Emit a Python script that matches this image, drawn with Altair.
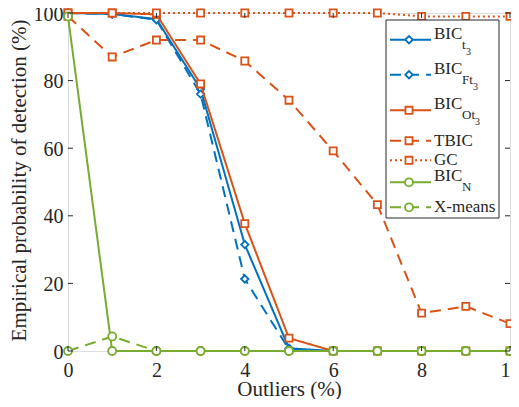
import altair as alt
import pandas as pd

# ---------------- data ----------------
outliers = [0, 1, 2, 3, 4, 5, 6, 7, 8, 9, 10]
bic_t3 = [100, 99.7, 98.2, 77.5, 31.5, 0.8, 0, 0, 0, 0, 0]
bic_ft3 = [100, 99.7, 98.0, 76.0, 21.3, 0.5, 0, 0, 0, 0, 0]
bic_ot3 = [100, 100, 99.6, 79.0, 37.7, 3.8, 0, 0, 0, 0, 0]
tbic = [99, 87, 92, 92, 85.8, 74.2, 59.2, 43.3, 11.2, 13.2, 8.1]
gc = [100, 100, 100, 100, 100, 100, 100, 100, 99, 99, 99]
bic_n = [99, 0, 0, 0, 0, 0, 0, 0, 0, 0, 0]
xmeans = [0, 4.3, 0, 0, 0, 0, 0, 0, 0, 0, 0]
x_ticks = [0, 2, 4, 6, 8, 10]
y_ticks = [0, 20, 40, 60, 80, 100]

# label text: (main, subscript, sub-subscript)
names = [("BIC", "t", "3"), ("BIC", "Ft", "3"), ("BIC", "Ot", "3"),
         ("TBIC", "", ""), ("GC", "", ""), ("BIC", "N", ""), ("X-means", "", "")]
values = [bic_t3, bic_ft3, bic_ot3, tbic, gc, bic_n, xmeans]

# ---------------- styles ----------------
BLUE, ORANGE, GREEN = "#0072BD", "#D95319", "#77AC30"
INK = "#262626"
FONT = "Liberation Serif"
SOLID, DASH, DOT = [1, 0], [11, 7], [2, 3]
styles = [
    (BLUE, SOLID, "diamond", 55),
    (BLUE, DASH, "diamond", 55),
    (ORANGE, SOLID, "square", 50),
    (ORANGE, DASH, "square", 50),
    (ORANGE, DOT, "square", 50),
    (GREEN, SOLID, "circle", 64),
    (GREEN, DASH, "circle", 64),
]

W, H = 442, 338
TOP = 5
xscale = alt.Scale(domain=[0, 10], nice=False, zero=False)
yscale = alt.Scale(domain=[0, 100], nice=False)

xaxis = alt.Axis(values=x_ticks, ticks=False, domain=False, grid=False,
                 labelFont=FONT, labelFontSize=20, labelColor=INK, labelPadding=9,
                 labelFlush=False, labelOverlap=False,
                 title="Outliers (%)", titleFont=FONT, titleFontSize=21,
                 titleFontWeight="normal", titleColor=INK,
                 titleX=W / 2, titleY=38, titleAlign="center", titleBaseline="middle")
yaxis = alt.Axis(values=y_ticks, ticks=False, domain=False, grid=False,
                 labelFont=FONT, labelFontSize=20, labelColor=INK, labelPadding=5,
                 labelFlush=False, labelOverlap=False, labelOffset=1,
                 title="Empirical probability of detection (%)", titleFont=FONT,
                 titleFontSize=21, titleFontWeight="normal", titleColor=INK,
                 titleX=-49, titleY=H / 2 - 2, titleAngle=270,
                 titleAlign="center", titleBaseline="middle")

def X(field):
    return alt.X(field, scale=xscale, axis=xaxis)

def Y(field):
    return alt.Y(field, scale=yscale, axis=yaxis)

layers = []
for (nm, vals, (col, dash, shape, size)) in zip(names, values, styles):
    df = pd.DataFrame({"x": outliers, "y": vals})
    base = alt.Chart(df).encode(x=X("x:Q"), y=Y("y:Q"))
    layers.append(base.mark_line(color=col, strokeWidth=2, strokeDash=dash, clip=False))
    layers.append(base.mark_point(shape=shape, size=size, filled=True, fill="white",
                                  stroke=col, strokeWidth=1.8, opacity=1))

# inward ticks on all four sides
xt = alt.Chart(pd.DataFrame({"x": x_ticks}))
yt = alt.Chart(pd.DataFrame({"y": y_ticks}))
tick_style = dict(color=INK, strokeWidth=1)
layers.append(xt.mark_rule(**tick_style).encode(
    x=X("x:Q"), y=alt.value(H), y2=alt.value(H - 5)))
layers.append(xt.mark_rule(**tick_style).encode(
    x=X("x:Q"), y=alt.value(0), y2=alt.value(5)))
layers.append(yt.mark_rule(**tick_style).encode(
    y=Y("y:Q"), x=alt.value(0), x2=alt.value(5)))
layers.append(yt.mark_rule(**tick_style).encode(
    y=Y("y:Q"), x=alt.value(W), x2=alt.value(W - 5)))

# ---------------- custom legend (subscripted labels) ----------------
# page-space rows of the reference legend, converted to plot space
PAGE_TOP = 8 + TOP
one = alt.Chart(pd.DataFrame({"a": [0]}))
layers.append(one.mark_rect(fill="white", stroke=INK, strokeWidth=1).encode(
    x=alt.value(318), x2=alt.value(431),
    y=alt.value(20 - PAGE_TOP), y2=alt.value(218 - PAGE_TOP)))
rows = [r - PAGE_TOP for r in [39.7, 74.7, 110.3, 140.7, 160.3, 182.3, 207.3]]
LX0, LX1, LM, TX = 322, 363, 341, 366
for (nm, (col, dash, shape, size), ry) in zip(names, styles, rows):
    main, sub, subsub = nm
    layers.append(one.mark_rule(color=col, strokeWidth=2, strokeDash=dash).encode(
        x=alt.value(LX0), x2=alt.value(LX1), y=alt.value(ry)))
    layers.append(one.mark_point(shape=shape, size=size, filled=True, fill="white",
                                 stroke=col, strokeWidth=1.8, opacity=1).encode(
        x=alt.value(LM), y=alt.value(ry)))
    if sub:
        layers.append(one.mark_text(text=main, font=FONT, fontSize=17, color=INK,
                                    align="left", baseline="alphabetic").encode(
            x=alt.value(TX), y=alt.value(ry - 1)))
        layers.append(one.mark_text(text=sub, font=FONT, fontSize=13, color=INK,
                                    align="left", baseline="alphabetic").encode(
            x=alt.value(TX + 28), y=alt.value(ry + 9)))
        if subsub:
            sw = {"t": 4, "Ft": 11, "Ot": 13}[sub]
            layers.append(one.mark_text(text=subsub, font=FONT, fontSize=10, color=INK,
                                        align="left", baseline="alphabetic").encode(
                x=alt.value(TX + 28 + sw), y=alt.value(ry + 15)))
    else:
        layers.append(one.mark_text(text=main, font=FONT, fontSize=17, color=INK,
                                    align="left", baseline="alphabetic").encode(
            x=alt.value(TX), y=alt.value(ry + 5)))

chart = alt.layer(*layers).properties(
    width=W, height=H,
    padding={"left": 60, "top": TOP, "right": 1, "bottom": 48},
    autosize=alt.AutoSizeParams(type="none"),
).configure_view(stroke=INK, strokeWidth=1).configure(background="white")

chart.save("out.html", embed_options={"renderer": "svg", "actions": False})
